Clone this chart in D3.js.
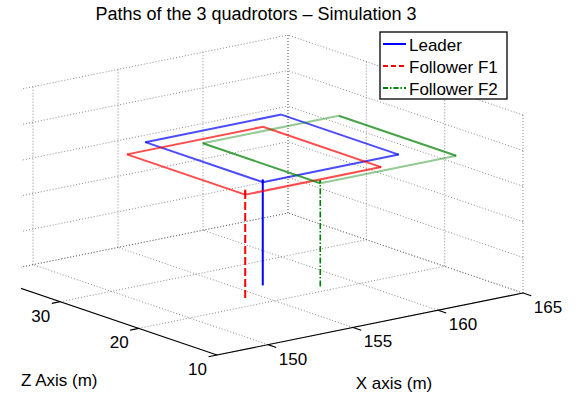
<!DOCTYPE html>
<html>
<head>
<meta charset="utf-8">
<script src="https://cdn.jsdelivr.net/npm/d3@7/dist/d3.min.js"></script>
<style>
  body { margin: 0; background: #fff; }
  text { font-family: "Liberation Sans", Arial, Helvetica, sans-serif; fill: #000; }
</style>
</head>
<body>
<svg id="chart" width="581" height="394"></svg>
<script>
// axis limits and ticks
const xDomain = [147, 165]
const zDomain = [10, 40]
const hDomain = [0, 5]
const xTicks = [150, 155, 160, 165]
const zTicks = [10, 20, 30, 40]
const hTicks = [0, 1, 2, 3, 4, 5]

// paths: take-off, climb, then one lap of the rectangle
const leaderX = [154.3, 154.3, 154.3, 162.3, 162.3, 154.3, 154.3]
const leaderZ = [20.0, 20.0, 20.0, 20.0, 35.0, 35.0, 20.0]
const leaderH = [0.5, 3.47, 3.4, 3.4, 3.4, 3.4, 3.4]

const f1X = [152.3, 152.3, 152.3, 160.3, 160.3, 152.3, 152.3]
const f1Z = [17.9, 17.9, 17.9, 17.9, 33.0, 33.0, 17.9]
const f1H = [0.5, 3.54, 3.4, 3.4, 3.4, 3.4, 3.4]

const f2X = [156.3, 156.3, 156.3, 164.3, 164.3, 156.3, 156.3]
const f2Z = [17.0, 17.0, 17.0, 17.0, 32.0, 32.0, 17.0]
const f2H = [0.5, 3.49, 3.4, 3.4, 3.4, 3.4, 3.4]

const legendNames = ['Leader', 'Follower F1', 'Follower F2']

// projection of the 3d box onto the page
const ORIGIN = [217, 355]
const U = [306, -62]   // full x range
const V = [-235, -80]  // full z range
const W = [0, -178]    // full height range
const CLIP_LEFT = 21   // the figure is cut on the left

const xScale = d3.scaleLinear().domain(xDomain).range([0, 1])
const zScale = d3.scaleLinear().domain(zDomain).range([0, 1])
const hScale = d3.scaleLinear().domain(hDomain).range([0, 1])

function project (x, z, h) {
  const u = xScale(x), v = zScale(z), w = hScale(h)
  return [ORIGIN[0] + u * U[0] + v * V[0] + w * W[0],
          ORIGIN[1] + u * U[1] + v * V[1] + w * W[1]]
}

const svg = d3.select('#chart')

svg.append('defs').append('clipPath').attr('id', 'plotClip')
  .append('rect').attr('x', CLIP_LEFT).attr('y', 0).attr('width', 581 - CLIP_LEFT).attr('height', 394)

const plot = svg.append('g').attr('clip-path', 'url(#plotClip)')

// =================== grid =================
const gridSegs = []
const [x0, x1] = xDomain, [z0, z1] = zDomain, [h0, h1] = hDomain
xTicks.forEach(x => {
  gridSegs.push([[x, z0, h0], [x, z1, h0]])   // floor
  gridSegs.push([[x, z1, h0], [x, z1, h1]])   // back left wall
})
zTicks.forEach(z => {
  gridSegs.push([[x0, z, h0], [x1, z, h0]])   // floor
  gridSegs.push([[x1, z, h0], [x1, z, h1]])   // back right wall
})
hTicks.forEach(h => {
  gridSegs.push([[x0, z1, h], [x1, z1, h]])
  gridSegs.push([[x1, z0, h], [x1, z1, h]])
})

plot.append('g').selectAll('line')
  .data(gridSegs)
  .enter()
  .append('line')
  .each(function (d) {
    const a = project(...d[0]), b = project(...d[1])
    d3.select(this).attr('x1', a[0]).attr('y1', a[1]).attr('x2', b[0]).attr('y2', b[1])
  })
  .style('stroke', '#666')
  .style('stroke-width', 1)
  .style('stroke-dasharray', '1,2')
  .style('opacity', 0.75)

// =================== axes =================
const axisG = plot.append('g').style('stroke', '#000').style('stroke-width', 1.2)
const line3 = (g, a, b) => {
  const p = project(...a), q = project(...b)
  g.append('line').attr('x1', p[0]).attr('y1', p[1]).attr('x2', q[0]).attr('y2', q[1])
}
line3(axisG, [x0, z0, h0], [x1, z0, h0])
line3(axisG, [x0, z0, h0], [x0, z1, h0])
xTicks.forEach(x => line3(axisG, [x, z0, h0], [x, z0 - 1.05, h0]))
zTicks.forEach(z => line3(axisG, [x0, z, h0], [x0 - 0.5, z, h0]))

svg.append('g').selectAll('text')
  .data(xTicks)
  .enter()
  .append('text')
  .attr('x', d => project(d, z0, h0)[0] + 25)
  .attr('y', d => project(d, z0, h0)[1] + 20)
  .attr('text-anchor', 'middle')
  .style('font-size', '17px')
  .text(d => d)

// labels whose tick falls in the cut-off part are not shown
svg.append('g').selectAll('text')
  .data(zTicks.filter(d => project(x0, d, h0)[0] >= CLIP_LEFT))
  .enter()
  .append('text')
  .attr('x', d => project(x0, d, h0)[0] - 19.5)
  .attr('y', d => project(x0, d, h0)[1] + 20)
  .attr('text-anchor', 'middle')
  .style('font-size', '17px')
  .text(d => d)

svg.append('text').attr('x', 21).attr('y', 386)
  .style('font-size', '17px').text('Z Axis (m)')
svg.append('text').attr('x', 394).attr('y', 389).attr('text-anchor', 'middle')
  .style('font-size', '17px').text('X axis (m)')

svg.append('text').attr('x', 256).attr('y', 20).attr('text-anchor', 'middle')
  .style('font-size', '18px').text('Paths of the 3 quadrotors \u2013 Simulation 3')

// =================== paths =================
const series = [
  { X: leaderX, Z: leaderZ, H: leaderH, color: '#0000ff', dash: null, width: 2, op: 0.7, lightX: false },
  { X: f1X, Z: f1Z, H: f1H, color: '#ff0000', dash: '8,3', width: 2, op: 0.7, lightX: false },
  { X: f2X, Z: f2Z, H: f2H, color: '#008000', dash: '6,2,1.5,2', width: 1.6, op: 0.72, lightX: true }
]

series.forEach(s => {
  const g = plot.append('g')
  for (let i = 0; i < s.X.length - 1; i++) {
    const a = project(s.X[i], s.Z[i], s.H[i])
    const b = project(s.X[i + 1], s.Z[i + 1], s.H[i + 1])
    const climb = s.H[i] !== s.H[i + 1]
    const alongX = s.X[i] !== s.X[i + 1]
    g.append('line')
      .attr('x1', a[0]).attr('y1', a[1]).attr('x2', b[0]).attr('y2', b[1])
      .style('stroke', s.color)
      .style('stroke-width', climb ? s.width : 2)
      .style('stroke-dasharray', climb && s.dash ? s.dash : null)
      .style('stroke-opacity', climb ? 1 : (s.lightX && alongX ? 0.42 : s.op))
  }
})

// =================== legend =================
const legend = svg.append('g')
legend.append('rect')
  .attr('x', 380).attr('y', 32).attr('width', 127).attr('height', 67)
  .style('fill', '#fff').style('stroke', '#000').style('stroke-width', 1.3)

const legendDash = [null, '5,3', '5,2,1.5,2']
legendNames.forEach((name, i) => {
  const y = 44 + i * 22
  legend.append('line')
    .attr('x1', 383).attr('x2', 406).attr('y1', y).attr('y2', y)
    .style('stroke', series[i].color)
    .style('stroke-width', 2)
    .style('stroke-dasharray', legendDash[i])
  legend.append('text')
    .attr('x', 409).attr('y', y + 7)
    .style('font-size', '17px')
    .text(name)
})
</script>
</body>
</html>
